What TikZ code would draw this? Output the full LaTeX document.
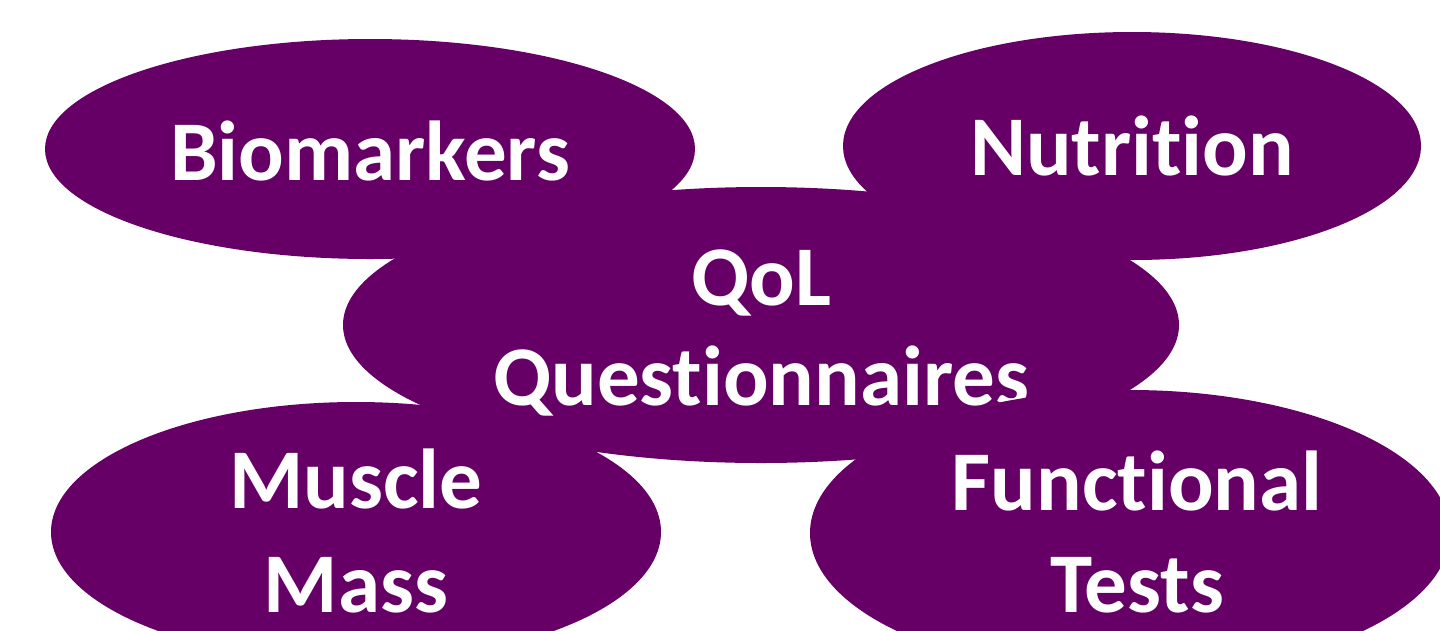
\documentclass[tikz,border=0pt]{standalone}
\usepackage{fontspec}
\setmainfont{Carlito}[Ligatures=CommonOff]
\usetikzlibrary{shapes.geometric}
\definecolor{plum}{RGB}{102,0,102}
\tikzset{
  blob/.style={ellipse, fill=plum, draw=none, inner sep=0pt, outer sep=0pt},
  lbl/.style={text=white, anchor=base, inner sep=0pt, font=\fontsize{85}{100}\selectfont\bfseries}
}
\begin{document}
\begin{tikzpicture}[x=1pt,y=-1pt]
\useasboundingbox (0,0) rectangle (1440,630);
\clip (0,0) rectangle (1440,630);
\node[blob, minimum width=836pt, minimum height=276pt] (qol) at (761,325) {};
\node[lbl] (qolA) at (761,305) {QoL};
\node[lbl] (qolB) at (761,405) {Questionnaires};
\node[blob, minimum width=650pt, minimum height=220pt] (bio) at (370,149) {};
\node[lbl] (bioT) at (370,180) {Biomarkers};
\node[blob, minimum width=578pt, minimum height=228pt] (nut) at (1132,146) {};
\node[lbl] (nutT) at (1132,175) {Nutrition};
\node[blob, minimum width=610pt, minimum height=260pt] (mus) at (356,532) {};
\node[lbl] (musA) at (356,508) {Muscle};
\node[lbl] (musB) at (356,612) {Mass};
\node[blob, minimum width=640pt, minimum height=286pt] (fun) at (1130,533) {};
\node[lbl] (funA) at (1137,510) {Functional};
\node[lbl] (funB) at (1137,612) {Tests};
\end{tikzpicture}
\end{document}
